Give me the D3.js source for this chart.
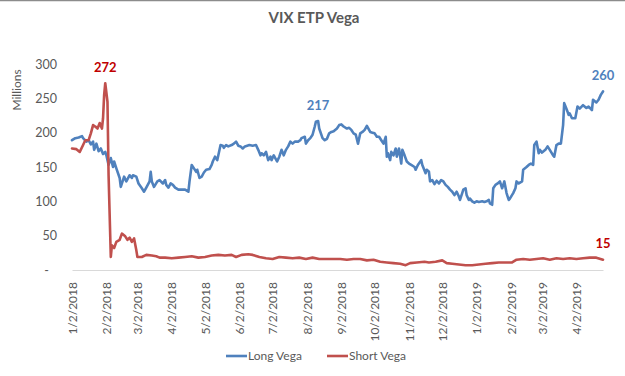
<!DOCTYPE html>
<html><head><meta charset="utf-8">
<script src="https://cdn.jsdelivr.net/npm/d3@7"></script>
<style>
html,body{margin:0;padding:0;background:#fff;}
svg{display:block;font-family:Lato,"Open Sans",sans-serif;}
</style></head>
<body><svg id="c" width="625" height="376"></svg>
<script>
const longVega = [
["2018-01-02",189],["2018-01-05",192],["2018-01-08",193],["2018-01-11",195],["2018-01-12",192],["2018-01-15",187],["2018-01-17",189],["2018-01-19",183],["2018-01-21",187],["2018-01-22",175],["2018-01-24",184],["2018-01-26",173],["2018-01-28",177],["2018-01-30",169],["2018-02-01",172],["2018-02-02",167],["2018-02-04",153],["2018-02-06",163],["2018-02-08",150],["2018-02-09",158],["2018-02-11",148],["2018-02-14",134],["2018-02-15",121],["2018-02-17",131],["2018-02-18",136],["2018-02-20",129],["2018-02-23",138],["2018-02-25",134],["2018-02-26",138],
["2018-03-01",136],["2018-03-03",126],["2018-03-06",119],["2018-03-08",114],["2018-03-10",120],["2018-03-13",129],["2018-03-14",143],["2018-03-15",129],["2018-03-17",121],["2018-03-20",129],["2018-03-22",131],["2018-03-25",126],["2018-03-27",131],["2018-03-28",124],["2018-03-30",120],
["2018-04-01",126],["2018-04-03",124],["2018-04-05",120],["2018-04-08",117],["2018-04-11",117],["2018-04-14",117],["2018-04-17",114],["2018-04-18",129],["2018-04-20",153],["2018-04-22",148],["2018-04-24",143],["2018-04-25",146],["2018-04-27",134],["2018-04-29",136],
["2018-05-01",142],["2018-05-03",146],["2018-05-06",147],["2018-05-08",153],["2018-05-09",158],["2018-05-11",165],["2018-05-13",160],["2018-05-14",167],["2018-05-16",182],["2018-05-18",181],["2018-05-19",178],["2018-05-21",182],["2018-05-23",180],["2018-05-26",182],["2018-05-28",184],["2018-05-30",187],
["2018-06-01",181],["2018-06-03",180],["2018-06-05",177],["2018-06-07",180],["2018-06-11",182],["2018-06-14",181],["2018-06-17",182],["2018-06-19",175],["2018-06-21",167],["2018-06-22",170],["2018-06-24",167],["2018-06-26",172],["2018-06-28",160],["2018-06-30",165],
["2018-07-01",160],["2018-07-03",167],["2018-07-06",158],["2018-07-08",165],["2018-07-10",175],["2018-07-12",167],["2018-07-14",175],["2018-07-16",180],["2018-07-18",187],["2018-07-20",184],["2018-07-22",187],["2018-07-25",187],["2018-07-27",189],["2018-07-28",192],["2018-07-31",194],
["2018-08-01",184],["2018-08-03",189],["2018-08-05",192],["2018-08-07",197],["2018-08-09",209],["2018-08-10",216],["2018-08-12",217],["2018-08-13",206],["2018-08-16",192],["2018-08-18",189],["2018-08-20",191],["2018-08-22",199],["2018-08-24",201],["2018-08-26",202],["2018-08-29",206],["2018-08-31",211],
["2018-09-02",212],["2018-09-04",209],["2018-09-07",206],["2018-09-09",207],["2018-09-11",204],["2018-09-13",199],["2018-09-15",197],["2018-09-17",184],["2018-09-19",199],["2018-09-21",201],["2018-09-23",204],["2018-09-25",210],["2018-09-28",201],["2018-09-30",200],
["2018-10-02",199],["2018-10-04",194],["2018-10-06",194],["2018-10-08",189],["2018-10-10",184],["2018-10-12",194],["2018-10-13",165],["2018-10-14",170],["2018-10-16",160],["2018-10-17",172],["2018-10-19",167],["2018-10-21",177],["2018-10-22",165],["2018-10-24",177],["2018-10-26",155],["2018-10-27",175],["2018-10-29",167],["2018-10-31",158],
["2018-11-02",155],["2018-11-04",153],["2018-11-07",150],["2018-11-08",146],["2018-11-10",153],["2018-11-13",160],["2018-11-14",153],["2018-11-17",141],["2018-11-18",146],["2018-11-20",143],["2018-11-21",129],["2018-11-23",131],["2018-11-25",125],["2018-11-27",130],["2018-11-29",126],
["2018-12-01",131],["2018-12-03",129],["2018-12-05",124],["2018-12-07",121],["2018-12-09",117],["2018-12-11",114],["2018-12-13",109],["2018-12-15",114],["2018-12-17",107],["2018-12-18",102],["2018-12-20",112],["2018-12-21",117],["2018-12-23",119],["2018-12-24",109],["2018-12-26",102],["2018-12-27",104],["2018-12-29",100],["2018-12-31",98],
["2019-01-02",100],["2019-01-04",99],["2019-01-07",100],["2019-01-09",99],["2019-01-11",100],["2019-01-13",102],["2019-01-14",97],["2019-01-16",95],["2019-01-17",119],["2019-01-19",124],["2019-01-21",126],["2019-01-23",129],["2019-01-25",119],["2019-01-27",129],["2019-01-29",112],["2019-01-30",107],["2019-01-31",102],
["2019-02-01",104],["2019-02-04",112],["2019-02-06",119],["2019-02-07",129],["2019-02-09",126],["2019-02-12",129],["2019-02-13",146],["2019-02-16",150],["2019-02-18",153],["2019-02-20",155],["2019-02-22",153],["2019-02-23",182],["2019-02-25",187],["2019-02-27",170],["2019-02-28",175],
["2019-03-02",171],["2019-03-05",175],["2019-03-07",180],["2019-03-09",175],["2019-03-12",167],["2019-03-13",165],["2019-03-15",182],["2019-03-17",184],["2019-03-19",184],["2019-03-21",211],["2019-03-22",243],["2019-03-24",235],["2019-03-26",226],["2019-03-27",228],["2019-03-29",221],
["2019-04-01",221],["2019-04-03",238],["2019-04-05",235],["2019-04-08",240],["2019-04-11",236],["2019-04-13",238],["2019-04-16",233],["2019-04-17",248],["2019-04-20",244],["2019-04-22",248],["2019-04-24",255],["2019-04-26",260]
];
const shortVega = [
["2018-01-02",177],["2018-01-06",176],["2018-01-09",172],["2018-01-12",182],["2018-01-14",189],["2018-01-17",189],["2018-01-19",199],["2018-01-21",211],["2018-01-23",209],["2018-01-25",206],["2018-01-27",214],["2018-01-29",206],["2018-01-30",221],["2018-01-31",255],["2018-02-01",272],["2018-02-03",245],["2018-02-04",138],["2018-02-06",19],["2018-02-07",36],["2018-02-09",32],["2018-02-11",41],["2018-02-14",44],["2018-02-16",53],["2018-02-19",49],["2018-02-21",44],["2018-02-23",47],["2018-02-25",41],["2018-02-27",46],
["2018-03-01",29],["2018-03-02",19],["2018-03-06",19],["2018-03-10",22],["2018-03-15",21],["2018-03-19",20],["2018-03-22",18],["2018-03-27",18],["2018-04-02",17],["2018-04-08",18],["2018-04-14",19],["2018-04-20",20],["2018-04-26",18],["2018-05-02",19],["2018-05-08",21],["2018-05-14",22],["2018-05-20",21],["2018-05-26",22],["2018-05-30",19],["2018-06-04",22],["2018-06-10",23],["2018-06-14",22],["2018-06-20",19],["2018-06-26",17],
["2018-07-02",16],["2018-07-08",19],["2018-07-14",18],["2018-07-20",17],["2018-07-26",18],["2018-08-01",16],["2018-08-07",18],["2018-08-13",16],["2018-08-19",16],["2018-08-28",16],["2018-09-01",16],["2018-09-07",15],["2018-09-13",16],["2018-09-19",16],["2018-09-25",14],["2018-10-01",15],["2018-10-07",12],["2018-10-13",11],["2018-10-19",10],["2018-10-25",9],["2018-10-30",7],["2018-11-03",10],["2018-11-09",11],["2018-11-16",12],["2018-11-20",11],["2018-11-26",12],
["2018-12-02",14],["2018-12-06",10],["2018-12-11",9],["2018-12-17",8],["2018-12-23",7],["2018-12-29",7],["2019-01-04",8],["2019-01-10",9],["2019-01-16",10],["2019-01-22",11],["2019-01-28",11],["2019-02-03",11],["2019-02-07",15],["2019-02-13",16],["2019-02-19",15],["2019-02-25",16],["2019-03-03",17],["2019-03-09",15],["2019-03-15",17],["2019-03-21",16],["2019-03-27",17],["2019-04-02",16],["2019-04-08",17],["2019-04-14",18],["2019-04-20",18],["2019-04-26",15]
];
const tickLabels = ["1/2/2018","2/2/2018","3/2/2018","4/2/2018","5/2/2018","6/2/2018","7/2/2018","8/2/2018","9/2/2018","10/2/2018","11/2/2018","12/2/2018","1/2/2019","2/2/2019","3/2/2019","4/2/2019"];
const yTicks = [0,50,100,150,200,250,300];
const seriesNames = ["Long Vega","Short Vega"];
const seriesColors = ["#4f81bd","#c0504d"];
const labelColors = ["#4f81bd","#c00000"];
const dataLabels = [["Long Vega","2018-08-12",217],["Long Vega","2019-04-26",260],["Short Vega","2018-02-01",272],["Short Vega","2019-04-26",15]];

const parse = d3.timeParse("%Y-%m-%d");
const parseTick = d3.timeParse("%m/%d/%Y");
const svg = d3.select("#c");
const textColor = "#595959";

svg.append("line").attr("x1",0).attr("x2",625).attr("y1",0.5).attr("y2",0.5).attr("stroke","#8c8c8c").attr("stroke-width",1.5);

const x = d3.scaleTime().domain([parse("2018-01-02"), parse("2019-04-26")]).range([72, 603]);
const y = d3.scaleLinear().domain([0,300]).range([270,64]);

// title
svg.append("text").attr("x",314).attr("y",23).attr("text-anchor","middle")
  .attr("font-size",15).attr("font-weight","bold").attr("fill",textColor).text("VIX ETP Vega");

// y axis
const yAxis = svg.append("g").attr("transform","translate(57,0)")
  .call(d3.axisLeft(y).tickValues(yTicks).tickSize(0).tickPadding(0).tickFormat(d => d===0 ? "-" : d));
yAxis.select(".domain").remove();
yAxis.selectAll("text").attr("fill",textColor).attr("font-size",12.5).attr("font-family","Lato, sans-serif")
  .attr("dx", d => d===0 ? -8 : 0);

svg.append("text").attr("transform","translate(21,90) rotate(-90)").attr("text-anchor","middle")
  .attr("font-size",12).attr("fill",textColor).text("Millions");

// x axis
const tickDates = tickLabels.map(parseTick);
const xAxis = svg.append("g").attr("transform","translate(0,270)")
  .call(d3.axisBottom(x).tickValues(tickDates).tickSize(0).tickFormat(d3.timeFormat("%-m/%-d/%Y")));
xAxis.select(".domain").attr("stroke","#d9d9d9").attr("stroke-width",1);
xAxis.selectAll("text").attr("fill",textColor).attr("font-size",12).attr("font-family","Lato, sans-serif")
  .attr("text-anchor","end").attr("transform","translate(0,12) rotate(-90)").attr("dy","0.35em").attr("y",0).attr("x",0);

// lines
const line = d3.line().x(d => x(parse(d[0]))).y(d => y(d[1])).curve(d3.curveLinear);
[longVega, shortVega].forEach((s,i) => {
  svg.append("path").datum(s).attr("d",line).attr("fill","none")
    .attr("stroke",seriesColors[i]).attr("stroke-width",2.6).attr("stroke-linejoin","round").attr("stroke-linecap","round");
});

// data labels
dataLabels.forEach(l => {
  const i = seriesNames.indexOf(l[0]);
  svg.append("text").attr("x", x(parse(l[1]))).attr("y", y(l[2]) - 16).attr("dy","0.35em")
    .attr("text-anchor","middle").attr("font-size",13).attr("font-weight","bold")
    .attr("fill",labelColors[i]).text(l[2]);
});

// legend
const legX = [226, 327];
seriesNames.forEach((n,i) => {
  const g = svg.append("g").attr("transform",`translate(${legX[i]},356)`);
  g.append("line").attr("x1",0).attr("x2",21).attr("y1",0).attr("y2",0).attr("stroke",seriesColors[i]).attr("stroke-width",2.6);
  g.append("text").attr("x",22).attr("y",0).attr("dy","0.35em").attr("font-size",12).attr("fill",textColor).text(n);
});
</script></body></html>
